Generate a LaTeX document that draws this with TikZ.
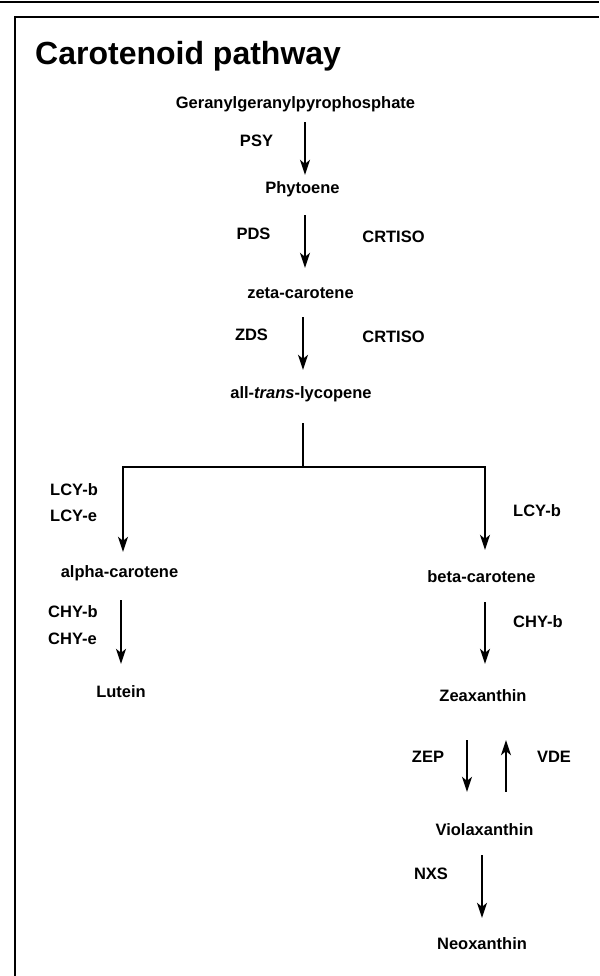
\documentclass[tikz,border=0pt]{standalone}
\usepackage{fontspec}
\setmainfont{Liberation Sans}
\usepackage{tikz}
\usetikzlibrary{arrows.meta}
\newcommand{\pathfont}{\fontsize{16.5}{18}\selectfont\bfseries}

\begin{document}
\begin{tikzpicture}[x=1pt, y=-1pt,
  every node/.style = {inner sep=0pt, anchor=base,
    text height=12pt, text depth=3.5pt, font=\pathfont},
  arr/.style = {line width=1.4pt, -{Stealth[length=15pt,width=10pt,inset=4pt]}}]
  \useasboundingbox (0,0) rectangle (599,976);
  \draw[line width=2pt] (0,2) -- (599,2);
  \draw[line width=1.5pt] (15,976) -- (15,17) -- (599,17);
  \draw[line width=2.2pt] (550,17) -- (599,17);
  \node[anchor=base west, text height=, text depth=,
    font=\fontsize{32}{36}\selectfont\bfseries] (title) at (35,65) {Carotenoid pathway};
  \node (ggpp) at (295.5,109) {Geranylgeranylpyrophosphate};
  \node (phy) at (302.5,194) {Phytoene};
  \node (zeta) at (300.5,298) {zeta-carotene};
  \node (lyco) at (301,398) {all-\textit{trans}-lycopene};
  \node (alpha) at (119.5,577) {alpha-carotene};
  \node (beta) at (481.5,582) {beta-carotene};
  \node (lutein) at (121,697) {Lutein};
  \node (zea) at (483,701) {Zeaxanthin};
  \node (viola) at (484.5,835) {Violaxanthin};
  \node (neo) at (482,949) {Neoxanthin};
  \node (psy) at (256.5,147) {PSY};
  \node (pds) at (253.5,240) {PDS};
  \node (crtisoA) at (393.5,243) {CRTISO};
  \node (zds) at (251.5,340) {ZDS};
  \node (crtisoB) at (393.5,342) {CRTISO};
  \node[anchor=base west] (lcybL) at (50,495) {LCY-b};
  \node[anchor=base west] (lcyeL) at (50,521) {LCY-e};
  \node[anchor=base west] (lcybR) at (513,516) {LCY-b};
  \node[anchor=base west] (chybL) at (48,617) {CHY-b};
  \node[anchor=base west] (chyeL) at (48,644) {CHY-e};
  \node[anchor=base west] (chybR) at (513,627) {CHY-b};
  \node (zep) at (428,762) {ZEP};
  \node (vde) at (554,762) {VDE};
  \node (nxs) at (431,879) {NXS};
  \coordinate (fork) at (303,467);
  \draw[arr, shorten <=9.5pt, shorten >=7pt]
    ([xshift=9.5pt]ggpp.south) -- ([xshift=2.5pt]phy.north);
  \draw[arr, shorten <=17.5pt, shorten >=18pt]
    ([xshift=2.5pt]phy.south) -- ([xshift=4.5pt]zeta.north);
  \draw[arr, shorten <=15.5pt, shorten >=16pt]
    ([xshift=2.5pt]zeta.south) -- ([xshift=2pt]lyco.north);
  \draw[line width=1.4pt, shorten <=21.5pt] ([xshift=2pt]lyco.south) -- (fork);
  \draw[arr, shorten >=13pt] (fork) -| ([xshift=3.5pt]alpha.north);
  \draw[arr, shorten >=20pt] (fork) -| ([xshift=3.5pt]beta.north);
  \draw[arr, shorten <=19.5pt, shorten >=21pt]
    ([xshift=1.5pt]alpha.south) -- (lutein.north);
  \draw[arr, shorten <=16.5pt, shorten >=25pt]
    ([xshift=3.5pt]beta.south) -- ([xshift=2pt]zea.north);
  \draw[arr, shorten <=35.5pt, shorten >=31pt]
    ([xshift=-16pt]zea.south) -- ([xshift=-17.5pt]viola.north);
  \draw[arr, shorten <=31pt, shorten >=35.5pt]
    ([xshift=21.5pt]viola.north) -- ([xshift=23pt]zea.south);
  \draw[arr, shorten <=16.5pt, shorten >=19pt]
    ([xshift=-2.5pt]viola.south) -- (neo.north);
\end{tikzpicture}
\end{document}
